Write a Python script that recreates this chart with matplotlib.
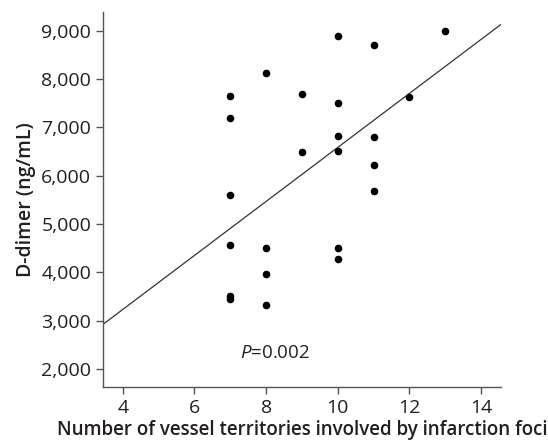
import matplotlib
matplotlib.use("Agg")
import matplotlib.pyplot as plt
import numpy as np

# vessel territories involved (x) vs D-dimer (y)
territories = [7, 7, 7, 7, 7, 7,
               8, 8, 8, 8,
               9, 9,
               10, 10, 10, 10, 10, 10,
               11, 11, 11, 11,
               12, 13]
d_dimer = [7650, 7190, 5600, 4560, 3510, 3440,
           8120, 4510, 3960, 3320,
           7690, 6500,
           8890, 7500, 6830, 6520, 4500, 4280,
           8700, 6800, 6230, 5690,
           7640, 9000]

# fitted regression line as printed in the figure
fit_intercept = 997
fit_slope = 559

x_ticks = [4, 6, 8, 10, 12, 14]
y_ticks = [2000, 3000, 4000, 5000, 6000, 7000, 8000, 9000]
y_ticklabels = ["2,000", "3,000", "4,000", "5,000", "6,000", "7,000", "8,000", "9,000"]

plt.rcParams['font.family'] = ['Open Sans', 'DejaVu Sans']
plt.rcParams['mathtext.fontset'] = 'custom'
plt.rcParams['mathtext.it'] = 'Open Sans:italic'
plt.rcParams['mathtext.rm'] = 'Open Sans'
text_color = '#231f20'

fig = plt.figure(figsize=(5.48, 4.43), dpi=100)
ax = fig.add_axes([0.188, 0.126, 0.726, 0.847])

xlim = (3.45, 14.55)
ax.set_xlim(*xlim)
ax.set_ylim(1625, 9390)

# regression line
xs = np.array(xlim)
ax.plot(xs, fit_intercept + fit_slope * xs, color='#333333', lw=0.9)

ax.scatter(territories, d_dimer, s=20, color='black', zorder=3)

ax.text(7.27, 2330, r'$\it{P}$=0.002', fontsize=13.5, color=text_color,
        va='center', ha='left')

for side in ['top', 'right']:
    ax.spines[side].set_visible(False)
for side in ['left', 'bottom']:
    ax.spines[side].set_color('#555555')
    ax.spines[side].set_linewidth(1.0)

ax.set_xticks(x_ticks)
ax.set_yticks(y_ticks)
ax.set_yticklabels(y_ticklabels)
ax.tick_params(axis='both', direction='out', length=5, width=1,
               color='#555555', labelcolor=text_color, labelsize=14)
for lbl in ax.get_xticklabels() + ax.get_yticklabels():
    lbl.set_fontweight('medium')

ax.set_xlabel('Number of vessel territories involved by infarction foci',
              fontsize=13.5, fontweight='semibold', color=text_color, labelpad=2)
ax.set_ylabel('D-dimer (ng/mL)', fontsize=14, fontweight='semibold',
              color=text_color, labelpad=4)

fig.savefig('out.png', dpi=100)
